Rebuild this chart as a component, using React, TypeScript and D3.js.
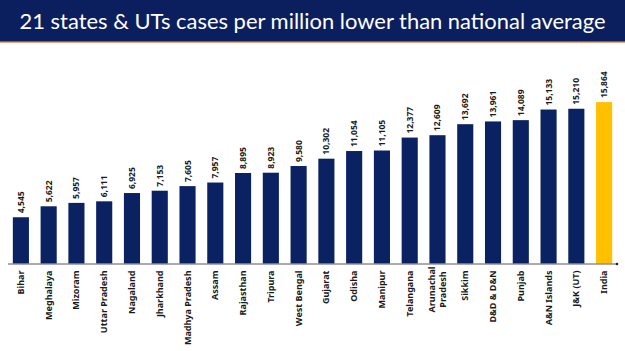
import React, { useEffect, useRef } from "react";
import * as d3 from "d3";

const states = [
  "Bihar",
  "Meghalaya",
  "Mizoram",
  "Uttar Pradesh",
  "Nagaland",
  "Jharkhand",
  "Madhya Pradesh",
  "Assam",
  "Rajasthan",
  "Tripura",
  "West Bengal",
  "Gujarat",
  "Odisha",
  "Manipur",
  "Telangana",
  "Arunachal\nPradesh",
  "Sikkim",
  "D&D & D&N",
  "Punjab",
  "A&N Islands",
  "J&K (UT)",
  "India",
];
const casesPerMillion = [
  4545, 5622, 5957, 6111, 6925, 7153, 7605, 7957, 8895, 8923, 9580, 10302,
  11054, 11105, 12377, 12609, 13692, 13961, 14089, 15133, 15210, 15864,
];
const highlight = "India";

const W = 625;
const H = 351;
const baseY = 263.5;
const font = "'Noto Sans', sans-serif";

export default function App() {
  const ref = useRef<SVGSVGElement>(null);

  useEffect(() => {
    const svg = d3.select(ref.current);
    svg.selectAll("*").remove();

    // title banner
    svg.append("rect").attr("width", W).attr("height", 42).attr("fill", "#0b1f5e");
    svg
      .append("rect")
      .attr("y", 41.5)
      .attr("width", W)
      .attr("height", 1.5)
      .attr("fill", "#e3a877");
    svg
      .append("text")
      .attr("x", W / 2)
      .attr("y", 29)
      .attr("text-anchor", "middle")
      .attr("fill", "#ffffff")
      .attr("font-family", "Lato, sans-serif")
      .attr("font-size", 22)
      .attr("textLength", 586)
      .attr("lengthAdjust", "spacingAndGlyphs")
      .text("21 states & UTs cases per million lower than national average");

    const x = d3
      .scaleBand()
      .domain(states)
      .range([7, 618])
      .paddingInner(0.42)
      .paddingOuter(0.21);
    const y = d3.scaleLinear().domain([0, 16000]).range([baseY, baseY - 162.8]);

    const g = svg.append("g");
    const data = states.map((s, i) => ({ s, v: casesPerMillion[i] }));

    g.selectAll("rect.bar")
      .data(data)
      .join("rect")
      .attr("class", "bar")
      .attr("x", (d) => x(d.s)!)
      .attr("y", (d) => y(d.v))
      .attr("width", x.bandwidth())
      .attr("height", (d) => baseY - y(d.v))
      .attr("fill", (d) => (d.s === highlight ? "#ffc000" : "#0b2262"));

    // value labels
    g.selectAll("text.val")
      .data(data)
      .join("text")
      .attr("class", "val")
      .attr(
        "transform",
        (d) => `translate(${x(d.s)! + x.bandwidth() / 2 + 3},${y(d.v) - 4}) rotate(-90)`
      )
      .attr("font-family", font)
      .attr("font-weight", "bold")
      .attr("font-size", 8.5)
      .attr("fill", "#1a1a1a")
      .text((d) => d3.format(",")(d.v));

    // axis line
    svg
      .append("line")
      .attr("x1", 8)
      .attr("x2", 617)
      .attr("y1", baseY + 0.5)
      .attr("y2", baseY + 0.5)
      .attr("stroke", "#595959")
      .attr("stroke-width", 1);
    svg.append("circle").attr("cx", 617).attr("cy", baseY + 0.5).attr("r", 1.3).attr("fill", "#222");

    // category labels
    const cats = svg
      .append("g")
      .selectAll("text")
      .data(states)
      .join("text")
      .attr("font-family", font)
      .attr("font-weight", "bold")
      .attr("font-size", 9)
      .attr("fill", "#1a1a1a");
    cats.each(function (s) {
      const lines = s.split("\n");
      const cx = x(s)! + x.bandwidth() / 2;
      const t = d3.select(this);
      if (lines.length === 1) {
        t.attr("transform", `translate(${cx + 3},${baseY + 7}) rotate(-90)`)
          .attr("text-anchor", "end")
          .text(s);
      } else {
        t.attr("transform", `translate(${cx},${baseY + 26}) rotate(-90)`)
          .attr("text-anchor", "middle");
        lines.forEach((ln, i) => {
          t.append("tspan")
            .attr("x", 0)
            .attr("y", -2.5 + i * 11)
            .text(ln);
        });
      }
    });
  }, []);

  return (
    <svg
      ref={ref}
      width={W}
      height={H}
      style={{ position: "absolute", left: 0, top: 0, background: "#fff" }}
    />
  );
}
